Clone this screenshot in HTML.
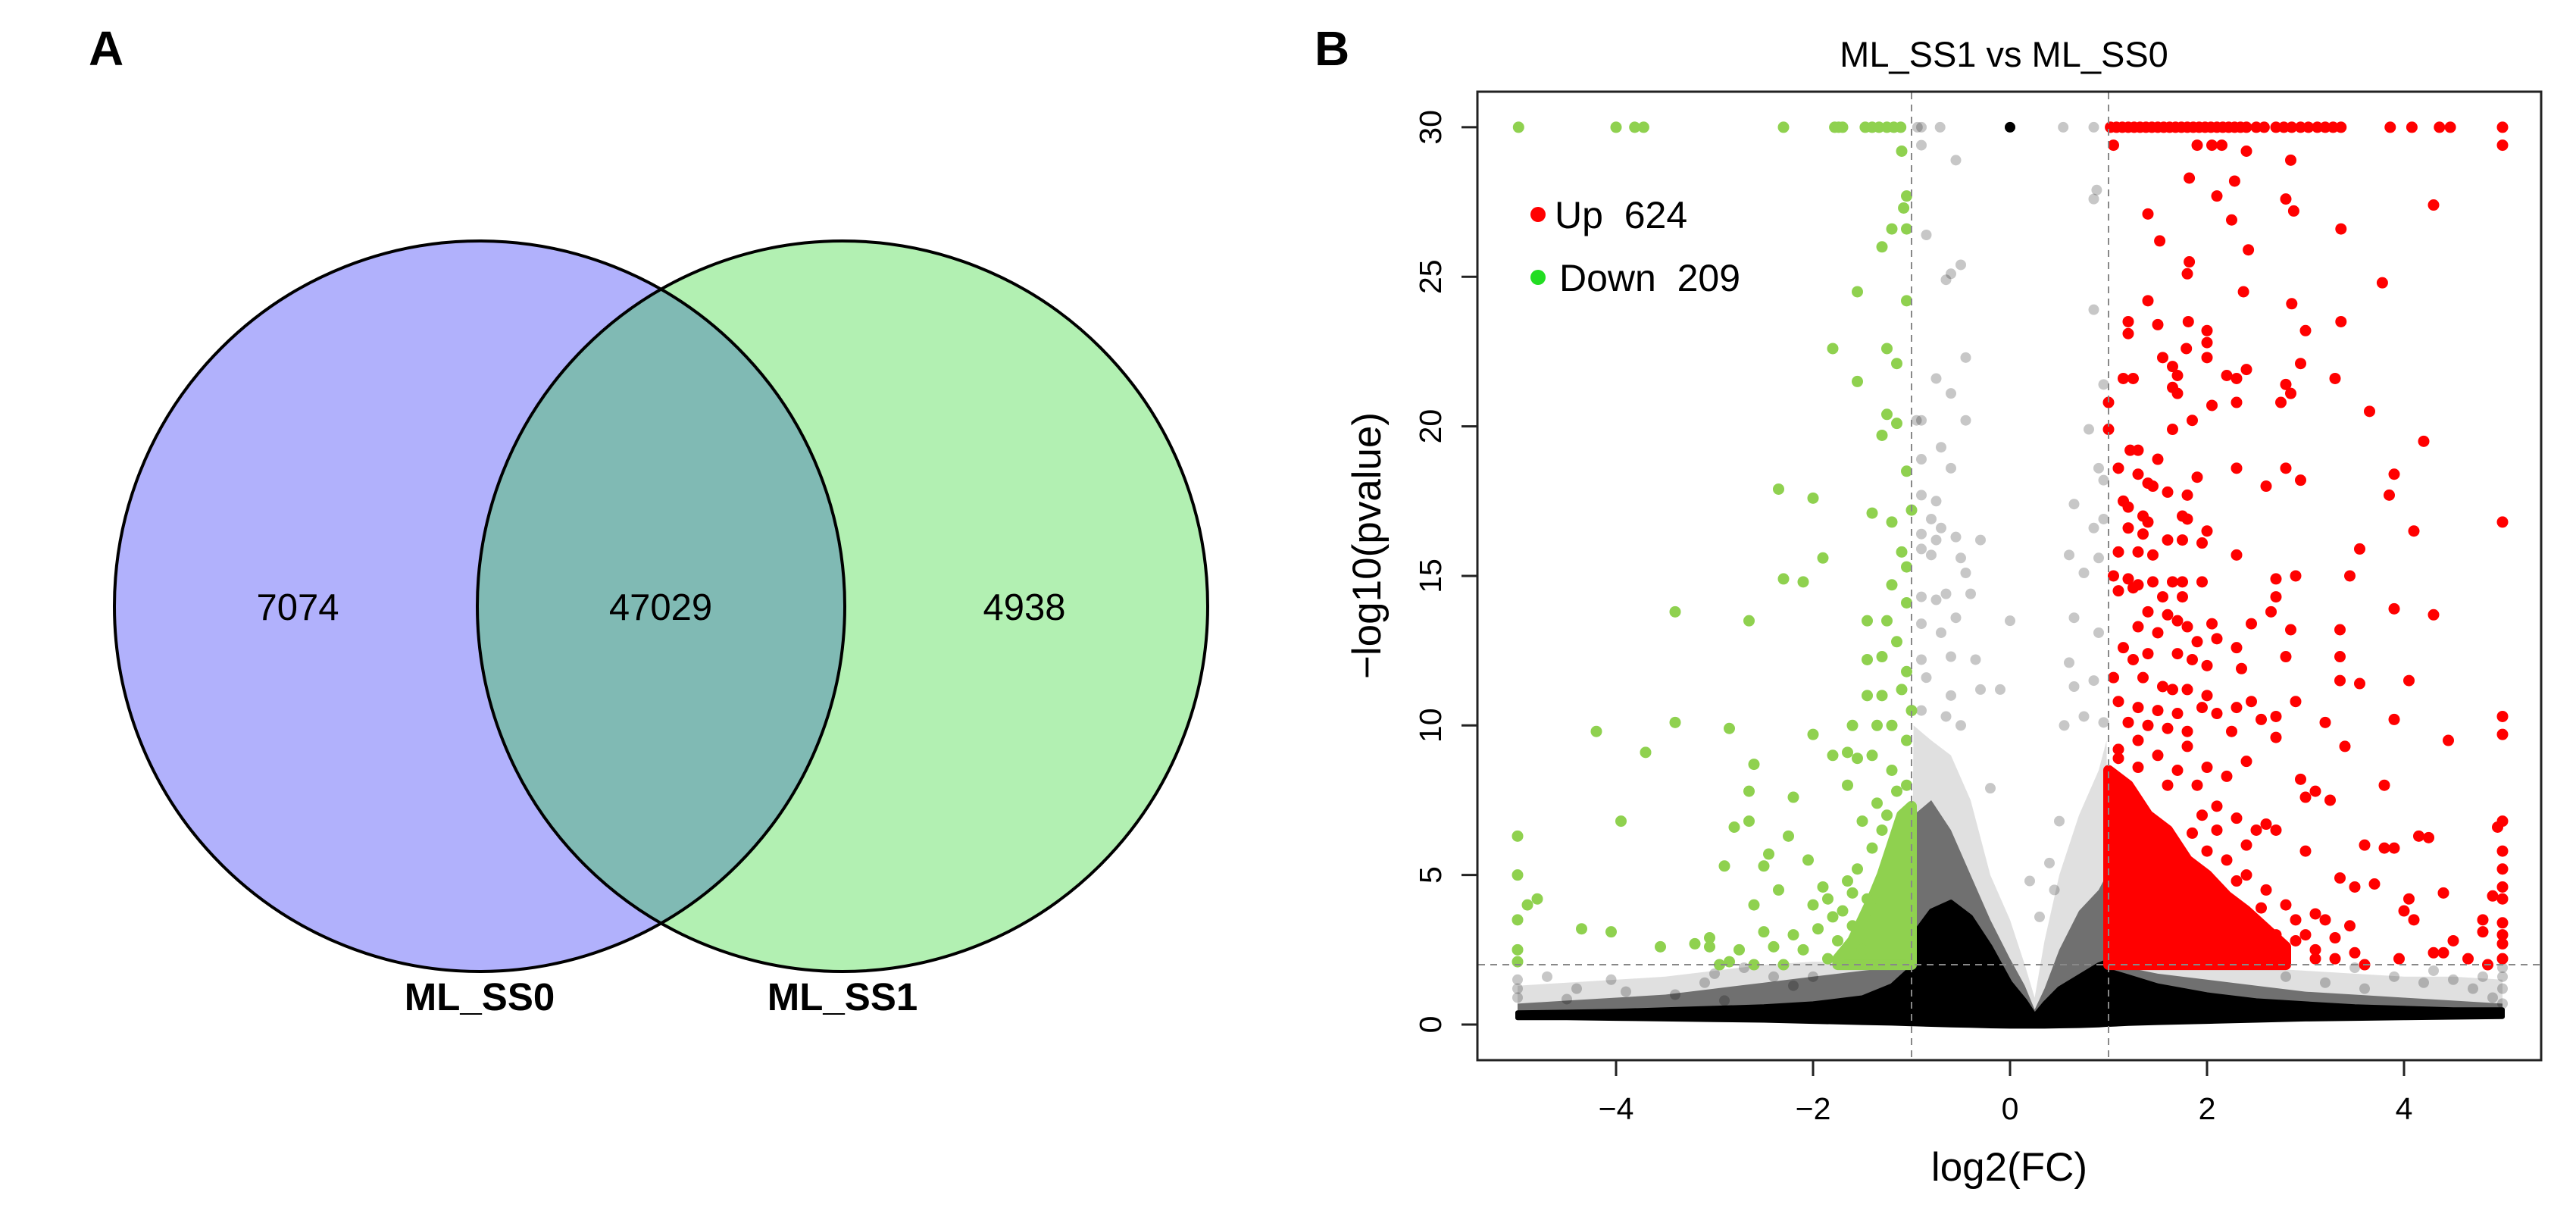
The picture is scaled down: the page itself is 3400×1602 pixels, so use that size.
<!DOCTYPE html>
<html><head><meta charset="utf-8"><style>
html,body{margin:0;padding:0;background:#fff;}
svg{display:block;font-family:"Liberation Sans",Arial,sans-serif;}
</style></head><body>
<svg id="fig" width="3400" height="1602" viewBox="0 0 3400 1602" xmlns="http://www.w3.org/2000/svg">
<rect x="0" y="0" width="3400" height="1602" fill="#fff"/>
<g>
  <text x="117" y="86" font-size="64" font-weight="bold">A</text>
  <circle cx="633" cy="800" r="482" fill="#B1B1FC"/>
  <circle cx="1112" cy="800" r="482" fill="#B2F0B2"/>
  <clipPath id="cl"><circle cx="633" cy="800" r="482"/></clipPath>
  <circle cx="1112" cy="800" r="482" fill="#80BAB4" clip-path="url(#cl)"/>
  <circle cx="633" cy="800" r="482" fill="none" stroke="#000" stroke-width="4"/>
  <circle cx="1112" cy="800" r="482" fill="none" stroke="#000" stroke-width="4"/>
  <text x="393" y="818" font-size="49" text-anchor="middle">7074</text>
  <text x="872" y="818" font-size="49" text-anchor="middle">47029</text>
  <text x="1352" y="818" font-size="49" text-anchor="middle">4938</text>
  <text x="633" y="1333" font-size="51" font-weight="bold" text-anchor="middle">ML_SS0</text>
  <text x="1112" y="1333" font-size="51" font-weight="bold" text-anchor="middle">ML_SS1</text>
</g>
<g id="volcano">
  <text x="1735" y="86" font-size="64" font-weight="bold">B</text>
  <text x="2645" y="88" font-size="47" text-anchor="middle">ML_SS1 vs ML_SS0</text>
  <text x="2652" y="1558" font-size="53" text-anchor="middle">log2(FC)</text>
  <text transform="translate(1822,720) rotate(-90)" font-size="53" text-anchor="middle">−log10(pvalue)</text>
  <g id="marks"></g>
  <g id="axes"></g>
  <rect x="1950" y="121" width="1404" height="1278" fill="none" stroke="#222" stroke-width="3"/>
  <circle cx="2030" cy="283" r="10" fill="#FF0000"/>
  <text x="2052" y="301" font-size="50">Up&#160;&#160;624</text>
  <circle cx="2030" cy="366" r="10" fill="#22DD22"/>
  <text x="2058" y="384" font-size="50">Down&#160;&#160;209</text>
</g>
</svg>
<script>
const xTicks=[-4,-2,0,2,4];
const yTicks=[0,5,10,15,20,25,30];
const envX=[-5,-4.5,-4,-3.5,-3,-2.5,-2,-1.5,-1.2,-1.0,-0.98,-0.8,-0.6,-0.4,-0.2,0,0.15,0.25,0.35,0.5,0.7,0.9,0.98,1.0,1.2,1.5,2,2.5,3,3.5,4,4.5,5];
const envBottom=[0.22,0.22,0.2,0.18,0.16,0.14,0.1,0.06,0.04,0.02,0.02,0,-0.02,-0.03,-0.05,-0.06,-0.06,-0.06,-0.06,-0.05,-0.04,-0.02,0,0,0.03,0.06,0.1,0.14,0.18,0.2,0.22,0.24,0.26];
const envSolid=[0.4,0.42,0.45,0.5,0.55,0.6,0.7,0.9,1.3,1.9,3.0,3.8,4.1,3.6,2.6,1.4,0.8,0.3,0.7,1.2,1.6,2.0,2.1,1.8,1.6,1.3,1.0,0.8,0.7,0.6,0.55,0.5,0.5];
const envDense=[0.7,0.8,0.9,1.0,1.2,1.4,1.6,1.8,1.9,2.0,7.0,7.5,6.5,5.0,3.5,2.2,1.3,0.5,1.2,2.5,3.8,4.5,5.0,2.0,1.9,1.7,1.5,1.3,1.1,1.0,0.9,0.8,0.7];
const envSparse=[1.3,1.4,1.5,1.6,1.8,2.0,2.1,2.1,2.1,2.1,10,9.5,9,7.5,5,3.5,2.0,0.9,2.8,5,7,8.5,9.5,2.1,2.1,2.1,2.0,1.9,1.8,1.7,1.6,1.6,1.5];
const greenCoreX=[-1.75,-1.6,-1.5,-1.4,-1.3,-1.2,-1.1,-1.0];
const greenCoreTop=[2.2,2.8,3.5,4.2,5.0,6.0,7.0,7.3];
const redCoreX=[1.0,1.2,1.4,1.6,1.8,2.0,2.2,2.4,2.6,2.8];
const redCoreTop=[8.5,8.0,7.0,6.5,5.5,5.0,4.3,3.8,3.2,2.6];
const grayPts=[[-0.94,30],[-0.9,30],[-0.71,30],[0.54,30],[0.85,30],[-0.9,29.4],[-0.55,28.9],[0.88,27.9],[0.85,27.6],[-0.85,26.4],[-0.6,25.1],[-0.5,25.4],[-0.65,24.9],[0.85,23.9],[-0.45,22.3],[-0.75,21.6],[-0.6,21.1],[0.95,21.4],[-0.95,20.2],[-0.9,20.2],[-0.45,20.2],[0.8,19.9],[-0.7,19.3],[-0.9,18.9],[-0.6,18.6],[0.9,18.6],[0.95,18.2],[-0.9,17.7],[-0.75,17.5],[-0.8,16.9],[0.65,17.4],[-0.7,16.6],[-0.9,16.4],[-0.75,16.2],[-0.55,16.3],[-0.3,16.2],[0.95,16.9],[0.85,16.6],[-0.9,15.9],[-0.8,15.7],[-0.5,15.6],[-0.45,15.1],[0.6,15.7],[0.9,15.6],[-0.9,14.3],[-0.75,14.2],[-0.65,14.4],[-0.4,14.4],[0.75,15.1],[-0.9,13.4],[-0.7,13.1],[-0.55,13.6],[0.0,13.5],[0.65,13.6],[0.9,13.1],[-0.9,12.2],[-0.6,12.3],[-0.35,12.2],[0.6,12.1],[-0.85,11.6],[-0.6,11.0],[-0.3,11.2],[-0.1,11.2],[0.65,11.3],[0.85,11.5],[-0.9,10.5],[-0.65,10.3],[-0.5,10.0],[0.55,10.0],[0.75,10.3],[0.95,10.1],[-0.2,7.9],[0.5,6.8],[0.4,5.4],[0.3,3.6],[0.45,4.5],[0.2,4.8],[-4.7,1.6],[-4.5,0.85],[-4.4,1.2],[-4.05,1.5],[-3.9,1.1],[-3.4,1.0],[-3.1,1.4],[-3,1.7],[-2.9,0.8],[-2.7,1.9],[-2.4,1.6],[-2.2,1.3],[-2.0,1.6],[3.5,1.9],[3.9,1.6],[4.2,1.4],[4.5,1.5],[4.8,1.6],[4.7,1.2],[4.9,0.9],[4.3,1.8],[3.2,1.4],[2.8,1.6],[3.6,1.2],[-5,1.2],[-5,0.9],[-5,1.5],[5,1.2],[5,1.6],[5,1.9],[5,0.7]];
const blackPts=[[0,30]];
const greenPts=[[-4.99,30],[-4,30],[-3.81,30],[-3.72,30],[-2.3,30],[-1.78,30],[-1.74,30],[-1.7,30],[-1.47,30],[-1.4,30],[-1.33,30],[-1.25,30],[-1.18,30],[-1.11,30],[-1.1,29.2],[-1.05,27.7],[-1.08,27.3],[-1.2,26.6],[-1.05,26.6],[-1.3,26.0],[-1.55,24.5],[-1.05,24.2],[-1.8,22.6],[-1.25,22.6],[-1.15,22.1],[-1.55,21.5],[-1.25,20.4],[-1.15,20.1],[-1.3,19.7],[-1.05,18.5],[-2.35,17.9],[-2.0,17.6],[-1.4,17.1],[-1.0,17.2],[-1.2,16.8],[-1.9,15.6],[-1.1,15.8],[-1.05,15.3],[-2.3,14.9],[-2.1,14.8],[-1.2,14.7],[-1.05,14.1],[-3.4,13.8],[-2.65,13.5],[-1.45,13.5],[-1.25,13.5],[-1.15,12.8],[-1.3,12.3],[-1.45,12.2],[-1.05,11.8],[-1.1,11.2],[-1.3,11.0],[-1.45,11.0],[-1.0,10.5],[-4.2,9.8],[-3.4,10.1],[-2.85,9.9],[-1.6,10.0],[-1.35,10.0],[-1.2,10.0],[-3.7,9.1],[-2.0,9.7],[-1.05,9.5],[-1.8,9.0],[-1.65,9.1],[-1.55,8.9],[-1.4,9.0],[-2.6,8.7],[-1.2,8.5],[-2.65,7.8],[-2.2,7.6],[-1.65,8.0],[-3.95,6.8],[-2.65,6.8],[-2.8,6.6],[-2.25,6.3],[-2.9,5.3],[-2.5,5.3],[-2.45,5.7],[-2.05,5.5],[-1.9,4.6],[-2.0,4.0],[-2.35,4.5],[-2.6,4.0],[-5,6.3],[-5,5.0],[-4.9,4.0],[-4.8,4.2],[-5,3.5],[-5,2.5],[-5,2.1],[-4.35,3.2],[-4.05,3.1],[-3.55,2.6],[-3.2,2.7],[-3.05,2.6],[-3.05,2.9],[-2.85,2.1],[-2.75,2.5],[-2.95,2.0],[-2.6,2.0],[-2.5,3.1],[-2.4,2.6],[-2.3,2.0],[-2.2,3.0],[-2.1,2.5],[-1.95,3.2],[-1.85,2.2],[-1.8,3.6],[-1.75,2.8],[-1.65,4.8],[-1.6,3.3],[-1.5,2.5],[-1.45,4.2],[-1.55,5.2],[-1.4,5.9],[-1.3,6.5],[-1.35,7.4],[-1.25,7.0],[-1.5,6.8],[-1.7,3.8],[-1.85,4.2],[-1.6,4.4],[-1.15,7.8],[-1.05,8.0]];
const redPts=[[1.02,30],[1.08,30],[1.14,30],[1.2,30],[1.26,30],[1.32,30],[1.38,30],[1.44,30],[1.5,30],[1.56,30],[1.62,30],[1.68,30],[1.74,30],[1.8,30],[1.86,30],[1.92,30],[1.98,30],[2.04,30],[2.1,30],[2.16,30],[2.22,30],[2.28,30],[2.34,30],[2.4,30],[2.5,30],[2.58,30],[2.7,30],[2.78,30],[2.86,30],[2.95,30],[3.03,30],[3.12,30],[3.2,30],[3.28,30],[3.36,30],[3.86,30],[4.08,30],[4.36,30],[4.47,30],[5,30],
[1.05,29.4],[1.9,29.4],[2.05,29.4],[2.15,29.4],[2.4,29.2],[2.85,28.9],[5,29.4],[1.82,28.3],[2.28,28.2],[2.1,27.7],[2.8,27.6],[2.88,27.2],[4.3,27.4],[1.4,27.1],[2.25,26.9],[3.36,26.6],[1.52,26.2],[2.42,25.9],[1.82,25.5],[1.8,25.1],[3.78,24.8],[2.37,24.5],[1.4,24.2],[2.86,24.1],[1.81,23.5],[1.2,23.5],[1.5,23.4],[3.36,23.5],[3,23.2],[1.2,23.1],[2.0,23.2],[2.0,22.8],[1.79,22.6],[1.55,22.3],[1.65,22.0],[2.0,22.3],[2.95,22.1],[1.15,21.6],[1.25,21.6],[1.7,21.7],[2.2,21.7],[2.3,21.6],[2.4,21.9],[2.8,21.4],[2.85,21.1],[3.3,21.6],[1.65,21.3],[1.7,21.1],[2.05,20.7],[2.3,20.8],[2.75,20.8],[1.0,20.8],[1.0,19.9],[1.65,19.9],[1.85,20.2],[3.65,20.5],[4.2,19.5],[1.22,19.2],[1.3,19.2],[1.5,18.9],[1.1,18.6],[2.3,18.6],[2.8,18.6],[2.95,18.2],[3.9,18.4],[1.3,18.4],[1.4,18.1],[1.45,18.0],[1.6,17.8],[1.8,17.7],[1.9,18.3],[2.6,18.0],[3.85,17.7],[1.15,17.5],[1.2,17.3],[1.35,17.0],[1.4,16.8],[1.75,17.0],[1.8,16.9],[2.0,16.5],[1.2,16.6],[1.35,16.4],[1.6,16.2],[1.75,16.2],[1.95,16.1],[4.1,16.5],[5,16.8],[1.1,15.8],[1.3,15.8],[1.45,15.7],[2.3,15.7],[3.55,15.9],[1.05,15.0],[1.2,14.9],[1.3,14.7],[1.45,14.8],[1.65,14.8],[1.75,14.8],[1.95,14.8],[2.7,14.9],[2.9,15.0],[3.45,15.0],[1.1,14.5],[1.25,14.6],[1.55,14.3],[1.75,14.3],[2.7,14.3],[1.4,13.8],[1.6,13.7],[1.7,13.5],[1.8,13.3],[2.05,13.4],[2.45,13.4],[2.65,13.8],[3.35,13.2],[3.9,13.9],[4.3,13.7],[1.3,13.3],[1.5,13.1],[1.9,12.8],[2.1,12.9],[2.3,12.6],[2.85,13.2],[1.15,12.6],[1.25,12.2],[1.4,12.4],[1.7,12.4],[1.85,12.2],[2.0,12.0],[2.35,11.9],[2.8,12.3],[3.35,12.3],[1.05,11.6],[1.35,11.6],[1.55,11.3],[1.65,11.2],[1.8,11.2],[2.0,11.0],[3.35,11.5],[3.55,11.4],[4.05,11.5],[1.1,10.8],[1.3,10.6],[1.5,10.5],[1.7,10.4],[1.95,10.6],[2.1,10.4],[2.3,10.6],[2.45,10.8],[2.9,10.8],[3.2,10.1],[3.9,10.2],[5,10.3],[1.2,10.1],[1.4,10.0],[1.6,9.9],[1.8,9.8],[2.25,9.8],[2.55,10.2],[2.7,10.3],[2.7,9.6],[5,9.7],[4.45,9.5],[3.4,9.3],
[3.8,8.0],[3.6,6.0],[3.8,5.9],[3.9,5.9],[4.15,6.3],[4.05,4.2],[4.0,3.8],[3.5,4.6],[3.35,4.9],[3.0,5.8],[3.1,7.8],[3.25,7.5],[2.95,8.2],[3.0,7.6],[4.65,2.2],[4.85,2.0],[4.5,2.8],[4.4,2.4],[4.3,2.4],[4.4,4.4],[3.95,2.2],[3.5,2.4],[3.45,3.3],[3.2,3.5],[3.1,3.7],[5,6.8],[4.95,6.6],[5,5.8],[5,5.2],[5,4.6],[5,4.2],[4.9,4.3],[5,3.4],[5,3.0],[5,2.7],[5,2.2],[4.8,3.5],[4.8,3.1],[4.1,3.5],[4.25,6.25],[3.7,4.7],[3.6,2.0],[3.3,2.9],[3.3,2.2],[3.1,2.5],
[1.1,9.2],[1.3,9.5],[1.5,9.0],[1.7,8.5],[1.9,8.0],[2.1,7.3],[2.3,6.9],[2.5,6.5],[2.6,6.7],[2.7,6.5],[2.2,5.5],[2.4,5.0],[2.6,4.5],[2.8,4.0],[2.9,3.5],[3.0,3.0],[2.7,3.0],[3.1,2.2],[2.2,8.3],[2.4,8.8],[1.8,9.3],[2.0,8.6],[1.6,8.0],[2.4,6.0],[2.1,6.5],[1.95,7.0],[2.0,5.8],[1.85,6.4],[2.3,4.8],[2.55,3.9],[2.9,2.8],[1.3,8.6],[1.1,8.9]];

const NS='http://www.w3.org/2000/svg';
const X0=2653, XU=130, Y0=1352, YU=39.47;
function sx(v){return X0+XU*v;}
function sy(v){return Y0-YU*v;}
const marks=document.getElementById('marks');
const axes=document.getElementById('axes');
function mk(tag,attrs,parent){const e=document.createElementNS(NS,tag);for(const k in attrs)e.setAttribute(k,attrs[k]);parent.appendChild(e);return e;}
function envPath(xs,top,bot){let d='';for(let i=0;i<xs.length;i++)d+=(i?'L':'M')+sx(xs[i]).toFixed(1)+' '+sy(top[i]).toFixed(1);for(let i=xs.length-1;i>=0;i--)d+='L'+sx(xs[i]).toFixed(1)+' '+sy(bot[i]).toFixed(1);return d+'Z';}
const p1=mk('path',{d:envPath(envX,envSparse,envBottom),fill:'#000','fill-opacity':0.12},marks);


const p2=mk('path',{d:envPath(envX,envDense,envBottom),fill:'#000','fill-opacity':0.5},marks);


const p3=mk('path',{d:envPath(envX,envSolid,envBottom),fill:'#000',stroke:'#000','stroke-width':6,'stroke-linejoin':'round'},marks);


grayPts.forEach(p=>{const c=mk('circle',{cx:sx(p[0]),cy:sy(p[1]),r:7,fill:'#000','fill-opacity':0.22},marks);

});
blackPts.forEach(p=>{const c=mk('circle',{cx:sx(p[0]),cy:sy(p[1]),r:7,fill:'#000'},marks);

});
{const bot=greenCoreX.map(()=>2);const g=mk('path',{d:envPath(greenCoreX,greenCoreTop,bot),fill:'#8FD14F',stroke:'#8FD14F','stroke-width':14,'stroke-linejoin':'round'},marks);

}
{const bot=redCoreX.map(()=>2);const r=mk('path',{d:envPath(redCoreX,redCoreTop,bot),fill:'#FF0000',stroke:'#FF0000','stroke-width':14,'stroke-linejoin':'round'},marks);

}
greenPts.forEach(p=>{const c=mk('circle',{cx:sx(p[0]),cy:sy(p[1]),r:7.5,fill:'#8FD14F'},marks);

});
redPts.forEach(p=>{const c=mk('circle',{cx:sx(p[0]),cy:sy(p[1]),r:7.5,fill:'#FF0000'},marks);

});
[-1,1].forEach(v=>{const l=mk('line',{x1:sx(v),x2:sx(v),y1:122,y2:1398,stroke:'#888','stroke-width':2,'stroke-dasharray':'9 7'},marks);

});
{const l=mk('line',{x1:1951,x2:3353,y1:sy(2),y2:sy(2),stroke:'#888','stroke-width':2,'stroke-dasharray':'9 7'},marks);

}
xTicks.forEach(v=>{const t=mk('line',{x1:sx(v),x2:sx(v),y1:1399,y2:1420,stroke:'#222','stroke-width':3},axes);


const s=mk('text',{x:sx(v),y:1477,'font-size':41,'text-anchor':'middle'},axes);s.textContent=(v<0?'−':'')+Math.abs(v);

});
yTicks.forEach(v=>{const t=mk('line',{x1:1929,x2:1950,y1:sy(v),y2:sy(v),stroke:'#222','stroke-width':3},axes);


const s=mk('text',{transform:'translate(1902,'+sy(v)+') rotate(-90)','font-size':41,'text-anchor':'middle'},axes);s.textContent=String(v);

});
</script>
</body></html>
